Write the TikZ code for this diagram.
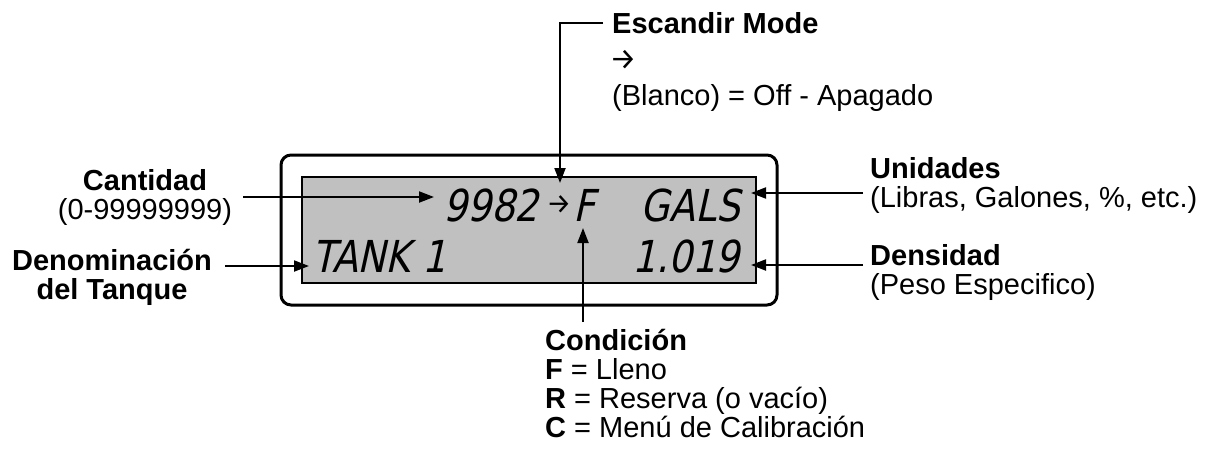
\documentclass[tikz,border=0pt]{standalone}
\usepackage{fontspec}
\setmainfont{Liberation Sans}
\newfontfamily\lcdfont[FakeSlant=0.22,FakeStretch=0.85]{DejaVu Sans}
\newfontfamily\arrfont{Fira Sans}
\usetikzlibrary{arrows.meta}
\definecolor{lcdgray}{RGB}{192,192,192}
\begin{document}
\begin{tikzpicture}[x=1pt,y=-1pt,
  lbl/.style={font=\fontsize{29}{29}\selectfont, inner sep=0pt},
  lblc/.style={lbl, align=center},
  arr/.style={line width=2pt, -{Triangle[length=15pt,width=11pt]}},
  lcd/.style={font=\lcdfont\fontsize{44}{44}\selectfont, inner sep=0pt},
  thinarr/.style={font=\arrfont\fontsize{30}{30}\selectfont, inner sep=0pt},
  frame/.style={line width=3pt, rounded corners=10pt},
  screen/.style={line width=2.5pt, fill=lcdgray}]
\useasboundingbox (0,0) rectangle (1217,456);
% display
\draw[frame] (281,155) rectangle (777,305);
\draw[screen] (302,177) rectangle (756,283);
\node[lcd, anchor=base east] (n9982) at (539,221) {9982};
\node[thinarr, font=\arrfont\fontsize{28}{28}\selectfont] (narrow) at (559,205) {→};
\node[lcd, anchor=base west] (nF) at (573,221) {F};
\node[lcd, anchor=base east] (ngals) at (740,221) {GALS};
\node[lcd, anchor=base west] (ntank) at (312,272) {TANK 1};
\node[lcd, anchor=base east] (ndens) at (740,272) {1.019};
% labels (anchor base = baseline of the last line)
\node[lbl, anchor=base west] (esc) at (612,33) {\textbf{Escandir Mode}};
\node[thinarr] (escarr) at (623,60) {→};
\node[lbl, anchor=base west] (blanco) at (612,105) {(Blanco) = Off - Apagado};
\node[lblc, anchor=base] (cant) at (145,219) {\textbf{Cantidad}\\(0-99999999)};
\node[lblc, anchor=base] (denom) at (112,299) {\textbf{Denominación}\\\textbf{del Tanque}};
\node[lbl, anchor=base west, align=left] (unid) at (870,207) {\textbf{Unidades}\\(Libras, Galones, \%, etc.)};
\node[lbl, anchor=base west, align=left] (densl) at (870,294) {\textbf{Densidad}\\(Peso Especifico)};
\node[lbl, anchor=base west, align=left] (cond) at (545,437) {\textbf{Condición}\\\textbf{F} = Lleno\\\textbf{R} = Reserva (o vacío)\\\textbf{C} = Menú de Calibración};
% connector end points
\coordinate (escS) at (603,23);
\coordinate (escT) at (560,183);
\coordinate (cantS) at (243,197);
\coordinate (cantT) at (434,197);
\coordinate (denS) at (225,266);
\coordinate (denT) at (309,266);
\coordinate (unS) at (863,193);
\coordinate (unT) at (751,193);
\coordinate (deS) at (863,265);
\coordinate (deT) at (751,265);
\coordinate (coS) at (583,322);
\coordinate (coT) at (583,228);
% connectors
\draw[arr] (escS) -| (escT);
\draw[arr] (cantS) -- (cantT);
\draw[arr] (denS) -- (denT);
\draw[arr] (unS) -- (unT);
\draw[arr] (deS) -- (deT);
\draw[arr] (coS) -- (coT);
\end{tikzpicture}
\end{document}
